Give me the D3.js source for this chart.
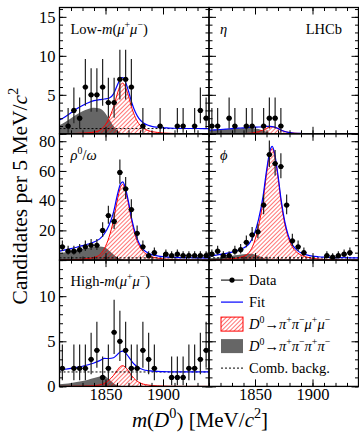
<!DOCTYPE html>
<html>
<head>
<meta charset="utf-8">
<script src="https://cdn.jsdelivr.net/npm/d3@7"></script>
<style>
  body { margin: 0; background: #fff; }
  text { font-family: "Liberation Serif", "DejaVu Serif", serif; }
</style>
</head>
<body>
<div id="app"></div>
<script>
// bin centres (5 MeV bins)
const massBins = [1812.5, 1817.5, 1822.5, 1827.5, 1832.5, 1837.5, 1842.5, 1847.5, 1852.5, 1857.5, 1862.5, 1867.5, 1872.5,
  1877.5, 1882.5, 1887.5, 1892.5, 1897.5, 1902.5, 1907.5, 1912.5, 1917.5, 1922.5, 1927.5, 1932.5, 1937.5]

const lowCounts = [0, 1, 3, 2, 6, 5, 5, 6, 4, 4, 7, 7, 6, 0, 1, 0, 0, 1, 0, 0, 1, 1, 0, 1, 3, 2]
const etaCounts = [1, 1, 0, 2, 1, 0, 1, 1, 0, 1, 2, 2, 1, 0, 0, 0, 0, 0, 0, 0, 0, 0, 0, 0, 0, 0]
const rhoCounts = [9, 6, 6, 7, 9, 10, 10, 20, 30, 26, 59, 48, 34, 18, 9, 3, 5, 0, 4, 3, 4, 3, 3, 3, 3, 3]
const phiCounts = [4, 6, 3, 3, 6, 7, 12, 17, 19, 37, 71, 65, 63, 37, 13, 9, 5, 0, 0, 0, 3, 2, 3, 4, 5, 0]
const highCounts = [2, 0, 2, 2, 2, 3, 4, 1, 2, 6, 5, 4, 2, 2, 4, 3, 2, 0, 0, 1, 1, 1, 2, 2, 3, 4]

// fit components
const curveMass = [1810, 1815, 1820, 1825, 1830, 1835, 1840, 1845, 1849, 1853, 1857, 1860, 1863, 1865, 1867, 1870,
  1873, 1876, 1879, 1883, 1887, 1891, 1895, 1900, 1905, 1910, 1920, 1930, 1940]

const lowSignal = [0, 0.01, 0.03, 0.05, 0.08, 0.13, 0.23, 0.46, 0.98, 1.95, 3.45, 5.0, 6.24, 6.5, 6.11, 4.81, 3.25, 2.08, 1.3, 0.72, 0.42, 0.26, 0.18, 0.1, 0.07, 0.04, 0.01, 0.01, 0]
const lowMisID = [1.1, 1.5, 2.0, 2.48, 2.88, 3.18, 3.35, 3.25, 2.81, 1.94, 1.0, 0.47, 0.13, 0.03, 0, 0, 0, 0, 0, 0, 0, 0, 0, 0, 0, 0, 0, 0, 0]
const lowComb = 0.67

const etaSignal = [0, 0, 0, 0.01, 0.01, 0.02, 0.03, 0.06, 0.14, 0.27, 0.48, 0.69, 0.86, 0.9, 0.85, 0.67, 0.45, 0.29, 0.18, 0.1, 0.06, 0.04, 0.02, 0.01, 0.01, 0, 0, 0, 0]
const etaMisID = [0.46, 0.5, 0.55, 0.6, 0.66, 0.7, 0.74, 0.76, 0.72, 0.6, 0.42, 0.25, 0.1, 0.03, 0, 0, 0, 0, 0, 0, 0, 0, 0, 0, 0, 0, 0, 0, 0]
const etaComb = 0

const rhoSignal = [0, 0.1, 0.2, 0.36, 0.61, 1.02, 1.79, 3.57, 7.65, 15.3, 27.0, 39.3, 49.0, 51, 47.9, 37.7, 25.5, 16.3, 10.2, 5.61, 3.32, 2.04, 1.38, 0.82, 0.51, 0.31, 0.1, 0.05, 0]
const rhoMisID = [4.5, 5.3, 6.0, 6.8, 7.6, 8.3, 8.9, 9.2, 8.6, 6.5, 3.8, 2.0, 0.7, 0.2, 0, 0, 0, 0, 0, 0, 0, 0, 0, 0, 0, 0, 0, 0, 0]
const rhoComb = 1.5

const phiSignal = [0, 0.15, 0.3, 0.53, 0.9, 1.5, 2.63, 5.25, 11.3, 22.5, 39.8, 57.8, 72, 75, 70.5, 55.5, 37.5, 24, 15, 8.25, 4.88, 3, 2.03, 1.2, 0.75, 0.45, 0.15, 0.08, 0]
const phiMisID = [1.1, 1.5, 2.0, 2.5, 3.0, 3.5, 4.0, 4.3, 4.0, 3.0, 1.6, 0.7, 0.2, 0.05, 0, 0, 0, 0, 0, 0, 0, 0, 0, 0, 0, 0, 0, 0, 0]
const phiComb = 1.5

const highSignal = [0, 0, 0.01, 0.02, 0.03, 0.05, 0.08, 0.16, 0.35, 0.69, 1.22, 1.77, 2.21, 2.3, 2.16, 1.7, 1.15, 0.74, 0.46, 0.25, 0.15, 0.09, 0.06, 0.04, 0.02, 0.01, 0, 0, 0]
const highMisID = [0.25, 0.3, 0.38, 0.48, 0.6, 0.75, 0.92, 1.1, 1.15, 0.8, 0.35, 0.12, 0.03, 0, 0, 0, 0, 0, 0, 0, 0, 0, 0, 0, 0, 0, 0, 0, 0]
const highComb = 1.6

const xTicks = [1850, 1900]
const rowYMax = [16.2, 85, 14]
const rowYTicks = [[0, 5, 10, 15], [0, 20, 40, 60, 80], [0, 5, 10]]
const rowYLabels = [[5, 10, 15], [20, 40, 60, 80], [0, 5, 10]]
const rowYMinorStep = [1, 5, 1]

const W = 359, H = 433
const plotLeft = 59.5, colW = 149.5, plotTop = 7.5, rowH = 126.3
const bw = 5 // bin width

const svg = d3.select('#app').append('svg').attr('width', W).attr('height', H)

const defs = svg.append('defs')
defs.append('pattern')
  .attr('id', 'hatch')
  .attr('patternUnits', 'userSpaceOnUse')
  .attr('width', 3).attr('height', 3)
  .attr('patternTransform', 'rotate(45)')
  .append('line')
  .attr('x1', 0).attr('y1', 0).attr('x2', 0).attr('y2', 3)
  .attr('stroke', '#f00').attr('stroke-width', 1.1)

// text with italic / superscript pieces
function rich(sel, parts, fs) {
  let shift = 0
  parts.forEach(([str, kind]) => {
    const t = sel.append('tspan').text(str)
    if (kind && kind.includes('i')) t.attr('font-style', 'italic')
    const sup = kind && kind.includes('s')
    const target = sup ? -fs * 0.4 : 0
    if (target !== shift) { t.attr('dy', target - shift); shift = target }
    if (sup) t.attr('font-size', fs * 0.68)
  })
  return sel
}

const panels = [
  { col: 0, row: 0, counts: lowCounts, sig: lowSignal, mis: lowMisID, comb: lowComb,
    label: [['Low-'], ['m', 'i'], ['('], ['μ', 'i'], ['+', 's'], ['μ', 'i'], ['−', 's'], [')']] },
  { col: 1, row: 0, counts: etaCounts, sig: etaSignal, mis: etaMisID, comb: etaComb, label: [['η', 'i']] },
  { col: 0, row: 1, counts: rhoCounts, sig: rhoSignal, mis: rhoMisID, comb: rhoComb,
    label: [['ρ', 'i'], ['0', 's'], ['/'], ['ω', 'i']] },
  { col: 1, row: 1, counts: phiCounts, sig: phiSignal, mis: phiMisID, comb: phiComb, label: [['ϕ', 'i']] },
  { col: 0, row: 2, counts: highCounts, sig: highSignal, mis: highMisID, comb: highComb,
    label: [['High-'], ['m', 'i'], ['('], ['μ', 'i'], ['+', 's'], ['μ', 'i'], ['−', 's'], [')']] },
  { col: 1, row: 2, legend: true }
]

panels.forEach((p, i) => {
  const x0 = plotLeft + p.col * colW
  const y0 = plotTop + p.row * rowH
  const x = d3.scaleLinear().domain([1810, 1940]).range([x0, x0 + colW])
  const y = d3.scaleLinear().domain([0, rowYMax[p.row]]).range([y0 + rowH, y0])
  const g = svg.append('g')

  const clipId = 'clip' + i
  defs.append('clipPath').attr('id', clipId).append('rect')
    .attr('x', x0).attr('y', y0).attr('width', colW).attr('height', rowH)

  if (!p.legend) {
    const pts = curveMass.map((m, k) => ({ m, sig: p.sig[k], mis: p.mis[k], tot: p.sig[k] + p.mis[k] + p.comb }))
    const plot = g.append('g').attr('clip-path', `url(#${clipId})`)

    plot.append('path').datum(pts)
      .attr('fill', '#666')
      .attr('d', d3.area().x(d => x(d.m)).y0(y(0)).y1(d => y(d.mis)).curve(d3.curveMonotoneX))

    const sigArea = d3.area().x(d => x(d.m)).y0(y(0)).y1(d => y(d.sig)).curve(d3.curveMonotoneX)
    plot.append('path').datum(pts).attr('fill', 'url(#hatch)').attr('d', sigArea)
    plot.append('path').datum(pts).attr('fill', 'none').attr('stroke', '#f00').attr('stroke-width', 1)
      .attr('d', d3.line().x(d => x(d.m)).y(d => y(d.sig)).curve(d3.curveMonotoneX))

    if (p.comb > 0) {
      plot.append('line')
        .attr('x1', x(1810)).attr('x2', x(1940)).attr('y1', y(p.comb)).attr('y2', y(p.comb))
        .attr('stroke', '#000').attr('stroke-width', 1).attr('stroke-dasharray', '2,2')
    }

    plot.append('path').datum(pts)
      .attr('fill', 'none').attr('stroke', '#00f').attr('stroke-width', 1.2)
      .attr('d', d3.line().x(d => x(d.m)).y(d => y(d.tot)).curve(d3.curveMonotoneX))

    // data with Poisson error bars
    const data = massBins.map((m, k) => ({ m, n: p.counts[k] })).filter(d => d.n > 0)
    const dg = plot.append('g')
    dg.selectAll('line.v').data(data).join('line')
      .attr('x1', d => x(d.m)).attr('x2', d => x(d.m))
      .attr('y1', d => y(d.n - Math.sqrt(d.n - 0.25)))
      .attr('y2', d => y(d.n + 1 + Math.sqrt(d.n + 0.75)))
      .attr('stroke', '#222').attr('stroke-width', 1.2)
    dg.selectAll('line.h').data(data).join('line')
      .attr('x1', d => x(d.m - bw / 2)).attr('x2', d => x(d.m + bw / 2))
      .attr('y1', d => y(d.n)).attr('y2', d => y(d.n))
      .attr('stroke', '#222').attr('stroke-width', 1.2)
    dg.selectAll('circle').data(data).join('circle')
      .attr('cx', d => x(d.m)).attr('cy', d => y(d.n)).attr('r', 2.6).attr('fill', '#000')

    rich(g.append('text').attr('x', x0 + 11).attr('y', y0 + 26).attr('font-size', 14.5), p.label, 14.5)
  } else {
    // legend
    const lx = x0 + 12, tx = x0 + 40, fs = 14.5
    const rows = [y0 + 20, y0 + 42, y0 + 64, y0 + 86, y0 + 108]
    g.append('line').attr('x1', lx).attr('x2', lx + 22).attr('y1', rows[0]).attr('y2', rows[0])
      .attr('stroke', '#222').attr('stroke-width', 1.2)
    g.append('circle').attr('cx', lx + 11).attr('cy', rows[0]).attr('r', 2.6)
    g.append('line').attr('x1', lx).attr('x2', lx + 22).attr('y1', rows[1]).attr('y2', rows[1])
      .attr('stroke', '#00f').attr('stroke-width', 1.2)
    g.append('rect').attr('x', lx).attr('y', rows[2] - 7).attr('width', 22).attr('height', 14)
      .attr('fill', 'url(#hatch)').attr('stroke', '#f00').attr('stroke-width', 1)
    g.append('rect').attr('x', lx).attr('y', rows[3] - 7).attr('width', 22).attr('height', 14)
      .attr('fill', '#666')
    g.append('line').attr('x1', lx).attr('x2', lx + 22).attr('y1', rows[4]).attr('y2', rows[4])
      .attr('stroke', '#000').attr('stroke-width', 1).attr('stroke-dasharray', '2,2')
    const texts = [
      [['Data']], [['Fit']],
      [['D', 'i'], ['0', 's'], ['→'], ['π', 'i'], ['+', 's'], ['π', 'i'], ['−', 's'], ['μ', 'i'], ['+', 's'], ['μ', 'i'], ['−', 's']],
      [['D', 'i'], ['0', 's'], ['→'], ['π', 'i'], ['+', 's'], ['π', 'i'], ['−', 's'], ['π', 'i'], ['+', 's'], ['π', 'i'], ['−', 's']],
      [['Comb. backg.']]
    ]
    texts.forEach((t, k) => rich(g.append('text').attr('x', tx).attr('y', rows[k] + 5).attr('font-size', fs), t, fs))
  }

  // ticks on all four sides, pointing inwards
  const minorY = d3.range(0, rowYMax[p.row], rowYMinorStep[p.row])
  const minorX = d3.range(1820, 1941, 10)
  const axes = g.append('g')
  const noLabel = () => ''
  axes.append('g').attr('transform', `translate(${x0},0)`)
    .call(d3.axisLeft(y).tickValues(minorY).tickSize(-3.5).tickFormat(noLabel))
  axes.append('g').attr('transform', `translate(${x0},0)`)
    .call(d3.axisLeft(y).tickValues(rowYTicks[p.row]).tickSize(-7).tickPadding(4)
      .tickFormat(v => (p.col === 0 && rowYLabels[p.row].includes(v)) ? v : ''))
  axes.append('g').attr('transform', `translate(${x0 + colW},0)`)
    .call(d3.axisRight(y).tickValues(minorY).tickSize(-3.5).tickFormat(noLabel))
  axes.append('g').attr('transform', `translate(${x0 + colW},0)`)
    .call(d3.axisRight(y).tickValues(rowYTicks[p.row]).tickSize(-7).tickFormat(noLabel))
  axes.append('g').attr('transform', `translate(0,${y0})`)
    .call(d3.axisTop(x).tickValues(minorX).tickSize(-3.5).tickFormat(noLabel))
  axes.append('g').attr('transform', `translate(0,${y0})`)
    .call(d3.axisTop(x).tickValues(xTicks).tickSize(-7).tickFormat(noLabel))
  axes.append('g').attr('transform', `translate(0,${y0 + rowH})`)
    .call(d3.axisBottom(x).tickValues(minorX).tickSize(-3.5).tickFormat(noLabel))
  axes.append('g').attr('transform', `translate(0,${y0 + rowH})`)
    .call(d3.axisBottom(x).tickValues(xTicks).tickSize(-7).tickPadding(2)
      .tickFormat(v => p.row === 2 ? v : ''))
  axes.selectAll('.domain').remove()
  axes.selectAll(':scope > g').attr('font-size', 16.5).attr('font-family', '"Liberation Serif", serif')
  axes.selectAll('.tick line').attr('stroke', '#000').attr('stroke-width', 1)
  axes.selectAll('.tick text').attr('fill', '#000')

  g.append('rect').attr('x', x0).attr('y', y0).attr('width', colW).attr('height', rowH)
    .attr('fill', 'none').attr('stroke', '#000').attr('stroke-width', 1.3)

  if (p.row === 0 && p.col === 1) {
    g.append('text').attr('x', x0 + colW - 16.5).attr('y', y0 + 26).attr('text-anchor', 'end')
      .attr('font-size', 14.5).text('LHCb')
  }
})

// axis titles
rich(svg.append('text').attr('transform', 'translate(27,196) rotate(-90)').attr('text-anchor', 'middle')
  .attr('font-size', 21.5), [['Candidates per 5 MeV/'], ['c', 'i'], ['2', 's']], 21.5)
rich(svg.append('text').attr('x', 200).attr('y', 426.5).attr('text-anchor', 'middle').attr('font-size', 21),
  [['m', 'i'], ['('], ['D', 'i'], ['0', 's'], [') [MeV/'], ['c', 'i'], ['2', 's'], [']']], 21)
</script>
</body>
</html>
